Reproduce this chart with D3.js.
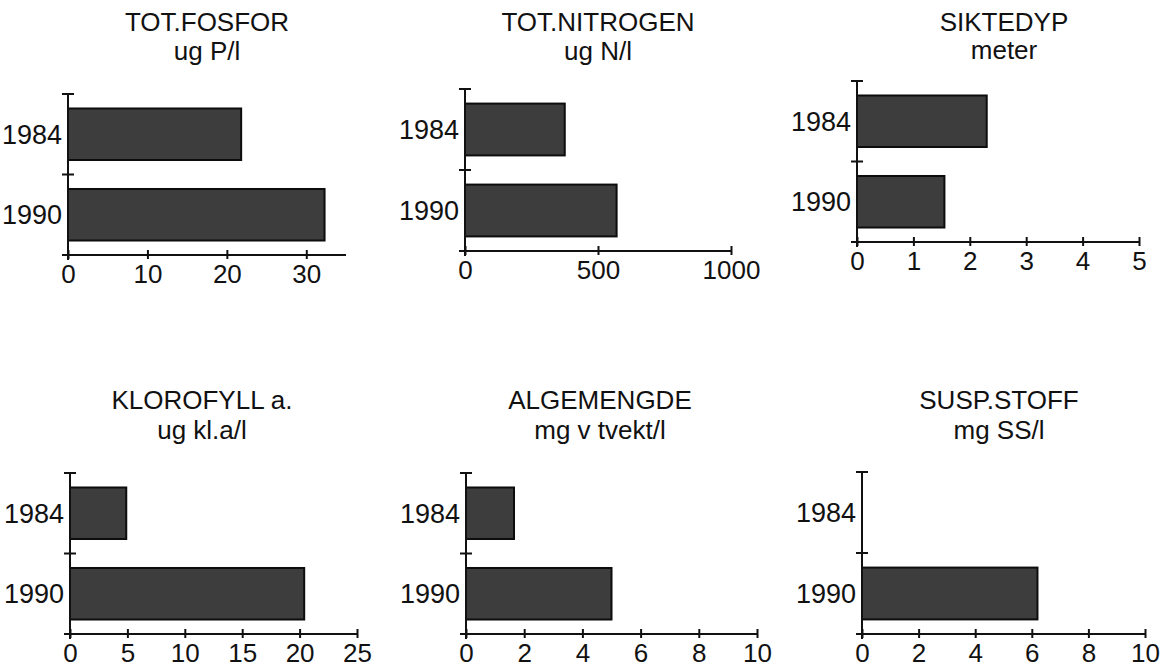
<!DOCTYPE html>
<html>
<head>
<meta charset="utf-8">
<script src="https://d3js.org/d3.v7.min.js"></script>
<style>
  body { margin: 0; background: #fff; }
  svg { display: block; font-family: "Liberation Sans", Arial, Helvetica, sans-serif; }
</style>
</head>
<body>
<div id="chart"></div>
<script>
// Data (1984 vs 1990)
const years = ["1984", "1990"];

const fosfor = [21.8, 32.3];       // ug P/l
const nitrogen = [375, 570];       // ug N/l
const siktedyp = [2.3, 1.55];      // meter
const klorofyll = [4.9, 20.4];     // ug kl.a/l
const algemengde = [1.65, 5.0];    // mg v tvekt/l
const suspStoff = [null, 6.2];     // mg SS/l (no 1984 value)

const fosforTicks = [0, 10, 20, 30];
const nitrogenTicks = [0, 500, 1000];
const siktedypTicks = [0, 1, 2, 3, 4, 5];
const klorofyllTicks = [0, 5, 10, 15, 20, 25];
const algemengdeTicks = [0, 2, 4, 6, 8, 10];
const suspStoffTicks = [0, 2, 4, 6, 8, 10];

const width = 1166, height = 667;

const svg = d3.select("#chart")
    .append("svg")
    .attr("width", width)
    .attr("height", height);

function drawPanel({
    title,        // first title line
    unit,         // second title line
    values,       // one value per year
    ticks,        // x tick values
    xMax,         // end of x domain
    left,         // pixel x of the value 0
    right,        // pixel x of xMax
    top,          // top of the y axis
    bottom,       // y of the x axis
    titleX,       // centre of the title
    titleY        // baselines of the two title lines
}) {
    const g = svg.append("g");

    const x = d3.scaleLinear().domain([0, xMax]).range([left, right]);
    const y = d3.scaleBand().domain(years).range([top, bottom])
        .paddingInner(0.36).paddingOuter(0.18);

    // title, two lines
    g.append("text")
        .attr("x", titleX).attr("y", titleY[0])
        .attr("text-anchor", "middle")
        .attr("font-size", 26)
        .attr("fill", "#111")
        .text(title);
    g.append("text")
        .attr("x", titleX).attr("y", titleY[1])
        .attr("text-anchor", "middle")
        .attr("font-size", 26)
        .attr("fill", "#111")
        .text(unit);

    // bars
    const rows = years.map((yr, i) => ({ year: yr, value: values[i] }))
        .filter(d => d.value != null);
    g.selectAll("rect")
        .data(rows)
        .enter()
        .append("rect")
        .attr("x", x(0))
        .attr("y", d => y(d.year))
        .attr("width", d => x(d.value) - x(0))
        .attr("height", y.bandwidth())
        .attr("fill", "#3d3d3d")
        .attr("stroke", "#0d0d0d")
        .attr("stroke-width", 2);

    // y axis line with cross ticks at band boundaries
    g.append("line")
        .attr("x1", x(0)).attr("x2", x(0))
        .attr("y1", top).attr("y2", bottom + 5)
        .attr("stroke", "#111").attr("stroke-width", 2);
    const step = y.step();
    [0, 1].forEach(i => {
        g.append("line")
            .attr("x1", x(0) - 6).attr("x2", x(0) + 6)
            .attr("y1", top + i * step).attr("y2", top + i * step)
            .attr("stroke", "#111").attr("stroke-width", 2);
    });

    // year labels
    g.selectAll(".year")
        .data(years)
        .enter()
        .append("text")
        .attr("class", "year")
        .attr("x", x(0) - 6)
        .attr("y", d => y(d) + y.bandwidth() / 2)
        .attr("dy", "0.36em")
        .attr("text-anchor", "end")
        .attr("font-size", 27)
        .attr("fill", "#111")
        .text(d => d);

    // x axis
    const xAxis = d3.axisBottom(x)
        .tickValues(ticks)
        .tickFormat(d3.format("d"))
        .tickSize(4)
        .tickPadding(6);
    g.append("g")
        .attr("transform", `translate(0,${bottom})`)
        .call(xAxis)
        .call(a => a.select(".domain").remove())
        .call(a => a.selectAll(".tick line")
            .attr("y1", -5).attr("y2", 4)
            .attr("stroke", "#111").attr("stroke-width", 2))
        .call(a => a.selectAll(".tick text")
            .attr("y", 28).attr("dy", null)
            .attr("font-size", 26)
            .attr("font-family", "Liberation Sans, Arial, sans-serif")
            .attr("fill", "#111"));
    g.append("line")
        .attr("x1", x(0) - 6).attr("x2", x(xMax))
        .attr("y1", bottom).attr("y2", bottom)
        .attr("stroke", "#111").attr("stroke-width", 2);
}

drawPanel({ title: "TOT.FOSFOR", unit: "ug P/l", values: fosfor, ticks: fosforTicks, xMax: 35,
    left: 68, right: 346, top: 94, bottom: 255, titleX: 207, titleY: [31, 60] });
drawPanel({ title: "TOT.NITROGEN", unit: "ug N/l", values: nitrogen, ticks: nitrogenTicks, xMax: 1000,
    left: 465, right: 731, top: 89, bottom: 251, titleX: 598, titleY: [31, 60] });
drawPanel({ title: "SIKTEDYP", unit: "meter", values: siktedyp, ticks: siktedypTicks, xMax: 5,
    left: 857, right: 1139, top: 81, bottom: 242, titleX: 1004, titleY: [31, 59] });
drawPanel({ title: "KLOROFYLL a.", unit: "ug kl.a/l", values: klorofyll, ticks: klorofyllTicks, xMax: 25,
    left: 70, right: 357, top: 473, bottom: 634, titleX: 202, titleY: [409, 439] });
drawPanel({ title: "ALGEMENGDE", unit: "mg v tvekt/l", values: algemengde, ticks: algemengdeTicks, xMax: 10,
    left: 466, right: 757, top: 473, bottom: 634, titleX: 600, titleY: [409, 439] });
drawPanel({ title: "SUSP.STOFF", unit: "mg SS/l", values: suspStoff, ticks: suspStoffTicks, xMax: 10,
    left: 862, right: 1145, top: 472, bottom: 634, titleX: 999, titleY: [409, 439] });
</script>
</body>
</html>
